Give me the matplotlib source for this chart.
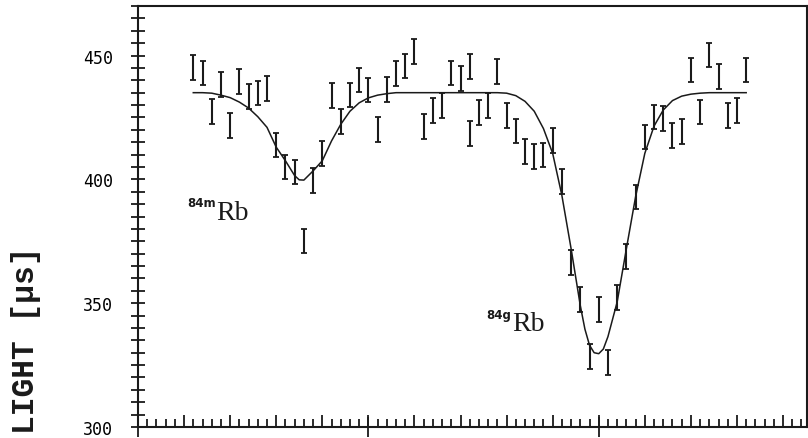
import numpy as np
import matplotlib.pyplot as plt
from matplotlib.ticker import MultipleLocator

# measured time of flight per scan step (channel), with 1-sigma errors
chan = [6, 7, 8, 9, 10, 11, 12, 13, 14, 15, 16, 17, 18, 19, 20,
        21, 22, 23, 24, 25, 26, 27, 28, 29, 30, 31, 32, 33, 34, 35,
        36, 36, 37, 38, 39, 40, 41, 42, 43, 44, 45, 46, 47, 48, 49,
        50, 51, 52, 53, 54, 55, 56, 57, 58, 59, 60, 61, 62, 63, 64,
        65, 66]
tof = [445.2, 442.9, 427.4, 438.3, 421.9, 439.4, 433.4, 434.9, 436.8, 413.9,
       405.0, 403.0, 375.1, 399.5, 410.4, 433.9, 423.3, 434.1, 440.1, 436.1,
       420.2, 436.2, 442.8, 445.8, 451.7, 421.3, 427.7, 429.9, 442.9, 440.6,
       445.6, 418.5, 426.9, 429.9, 443.6, 425.9, 419.5, 411.1, 409.1, 409.8,
       415.8, 399.0, 366.4, 351.6, 328.4, 347.4, 325.9, 352.3, 368.8, 392.9,
       417.1, 425.2, 424.5, 417.8, 419.2, 444.2, 427.2, 450.2, 441.5, 425.9,
       427.9, 444.2]
err = [5.0] * len(tof)

# fitted resonance curve (84m and 84g dips on a flat baseline)
fit_chan = [6, 7, 8, 9, 10, 11, 12, 13, 14, 15, 16, 17, 17.5, 18, 19, 20,
            21, 22, 23, 24, 25, 26, 27, 28, 30, 32, 34, 36, 38, 39, 40,
            41, 42, 43, 44, 45, 46, 47, 48, 48.5, 49, 49.5, 50, 50.5, 51,
            51.5, 52, 53, 54, 55, 56, 57, 58, 59, 60, 61, 62, 64, 66]
fit_tof = [435.0, 435.0, 434.8, 434.0, 433.0, 431.2, 428.8, 425.3, 421.0, 413.0,
           407.5, 401.5, 399.8, 399.7, 403.4, 407.5,
           415.5, 422.2, 427.5, 430.9, 432.9, 434.0, 434.6, 435.0, 435.0, 435.0,
           435.0, 435.0, 435.0, 435.0, 434.8,
           433.8, 431.5, 427.5, 420.5, 410.5, 393.5, 372.0, 349.0, 339.5, 333.0,
           330.0, 329.6, 331.5, 336.5,
           343.5, 350.5, 372.0, 393.0, 410.5, 421.5, 428.0, 431.8, 433.6, 434.4,
           434.8, 435.0, 435.0, 435.0]

ink = '#1a1a1a'

fig = plt.figure(figsize=(8.08, 4.39), dpi=100)
ax = fig.add_axes([138 / 808, 11 / 439, 669 / 808, 421 / 439])

ax.errorbar(chan, tof, yerr=err, fmt='none', ecolor=ink, elinewidth=1.5,
            capsize=2.5, capthick=1.3)
ax.plot(fit_chan, fit_tof, color=ink, lw=1.1)

ax.set_xlim(0, 72.6)
ax.set_ylim(300, 470)

for s in ax.spines.values():
    s.set_linewidth(1.5)
    s.set_color(ink)

# y axis: tick every 5 us, labels every 50
ax.yaxis.set_major_locator(MultipleLocator(50))
ax.yaxis.set_minor_locator(MultipleLocator(5))
ax.tick_params(axis='y', which='both', direction='inout', length=10,
               width=1.3, color=ink, pad=13)
for lbl in ax.get_yticklabels():
    lbl.set_family('DejaVu Sans Mono')
    lbl.set_fontsize(12)

# x axis: small ticks every channel, longer every 5, crossing every 25
ax.xaxis.set_major_locator(MultipleLocator(5))
ax.xaxis.set_minor_locator(MultipleLocator(1))
ax.tick_params(axis='x', which='major', direction='in', length=8.6,
               width=1.3, color=ink, labelbottom=False)
ax.tick_params(axis='x', which='minor', direction='in', length=5.8,
               width=1.3, color=ink)
sec = ax.secondary_xaxis('bottom')
sec.xaxis.set_major_locator(MultipleLocator(25))
sec.tick_params(direction='inout', length=14.4, width=1.3, color=ink,
                labelbottom=False)
sec.spines['bottom'].set_visible(False)

# isotope labels
ax.text(8.46, 383.9, 'Rb', family='Liberation Serif', fontsize=20,
        ha='left', va='baseline', color=ink)
ax.text(8.4, 389.1, '84m', fontsize=8.5, fontweight='bold',
        ha='right', va='baseline', color=ink)
ax.text(40.59, 339.1, 'Rb', family='Liberation Serif', fontsize=20,
        ha='left', va='baseline', color=ink)
ax.text(40.5, 344.0, '84g', fontsize=8.5, fontweight='bold',
        ha='right', va='baseline', color=ink)

fig.text(26 / 808, 1 - 247 / 439, 'LIGHT [µs]', rotation=90, ha='center',
         va='top', family='Liberation Mono', fontweight='bold', fontsize=22.5,
         color=ink)

fig.savefig('out.png', dpi=100)
